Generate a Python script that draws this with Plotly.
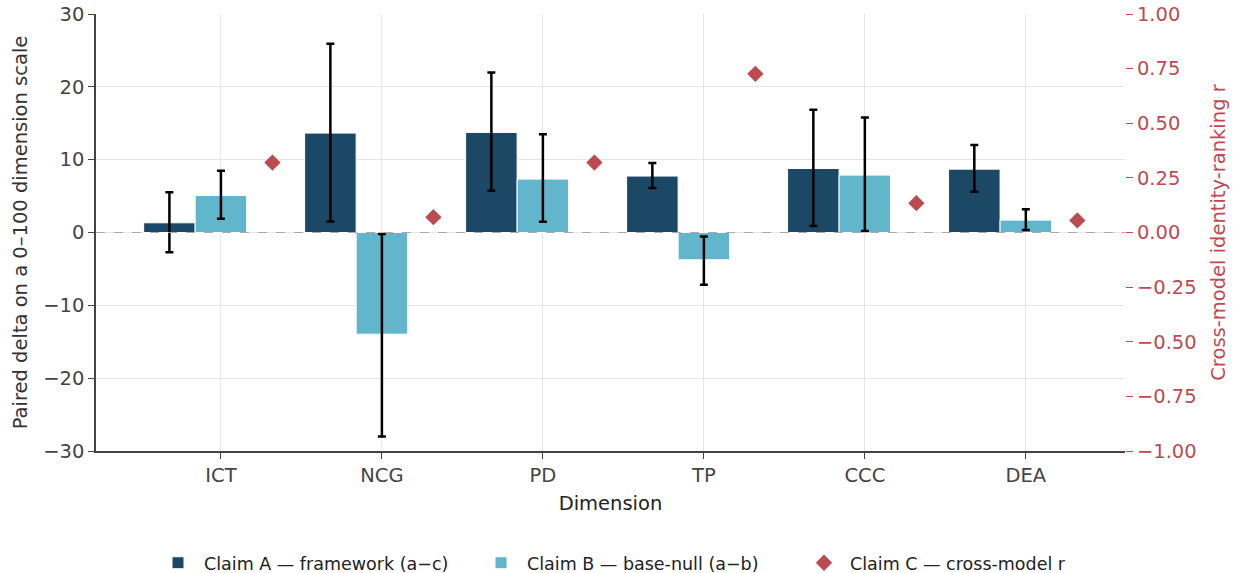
import numpy as np
import plotly.graph_objects as go

dimensions = ["ICT", "NCG", "PD", "TP", "CCC", "DEA"]

claim_a = [1.33, 13.65, 13.74, 7.75, 8.79, 8.70]
claim_a_lo = [-2.70, 1.50, 5.73, 6.10, 0.88, 5.60]
claim_a_hi = [5.54, 25.90, 21.98, 9.53, 16.85, 12.00]

claim_b = [5.08, -13.96, 7.33, -3.75, 7.88, 1.70]
claim_b_lo = [1.88, -28.00, 1.47, -7.18, 0.19, 0.33]
claim_b_hi = [8.47, -0.20, 13.50, -0.55, 15.80, 3.20]

claim_c_r = [0.32, 0.07, 0.32, 0.726, 0.134, 0.055]

name_a = "Claim A — framework (a−c)"
name_b = "Claim B — base-null (a−b)"
name_c = "Claim C — cross-model r"

C_A = "#1b4965"
C_B = "#62b6cb"
C_C = "#bc4b51"

FONT = "DejaVu Sans"
FS = 19.5
W = 0.32
idx = np.arange(len(dimensions))
a = np.array(claim_a); b = np.array(claim_b)

fig = go.Figure()
fig.add_trace(go.Bar(
    x=idx - W, y=a, width=W, name=name_a,
    marker=dict(color=C_A, line=dict(color="white", width=1)),
    error_y=dict(type="data", symmetric=False,
                 array=np.array(claim_a_hi) - a,
                 arrayminus=a - np.array(claim_a_lo),
                 color="black", thickness=2.5, width=4),
))
fig.add_trace(go.Bar(
    x=idx, y=b, width=W, name=name_b,
    marker=dict(color=C_B, line=dict(color="white", width=1)),
    error_y=dict(type="data", symmetric=False,
                 array=np.array(claim_b_hi) - b,
                 arrayminus=b - np.array(claim_b_lo),
                 color="black", thickness=2.5, width=4),
))
fig.add_trace(go.Scatter(
    x=idx + W, y=claim_c_r, mode="markers", name=name_c, yaxis="y2",
    marker=dict(symbol="diamond", size=12.5, color=C_C, line=dict(width=0)),
))

fig.add_shape(type="line", xref="paper", x0=0, x1=1, yref="y", y0=0, y1=0,
              line=dict(color="#aaaaaa", width=1.2, dash="dash"), layer="above")

fig.update_layout(
    width=1234, height=573,
    margin=dict(l=96, r=109, t=14, b=122, autoexpand=False),
    paper_bgcolor="white", plot_bgcolor="white",
    barmode="overlay",
    font=dict(family=FONT, size=FS, color="#444444"),
    showlegend=True,
    legend=dict(orientation="h", x=(152 - 96) / 1029, xanchor="left", y=-0.256, yanchor="middle",
                font=dict(size=17.5, color="#222222"), itemwidth=42,
                entrywidth=266, entrywidthmode="pixels"),
    xaxis=dict(
        range=[-0.776, 5.616], tickmode="array", tickvals=list(idx), ticktext=dimensions,
        showgrid=True, gridcolor="#e6e6e6", gridwidth=1,
        showline=True, linecolor="#444444", linewidth=1.5,
        ticks="outside", ticklen=6, tickcolor="#444444", tickwidth=1.2,
        zeroline=False, mirror=False, automargin=False,
        title=dict(text="Dimension", font=dict(size=FS, color="#222222"), standoff=10),
    ),
    yaxis=dict(
        range=[-30, 30], tickmode="linear", tick0=-30, dtick=10,
        showgrid=True, gridcolor="#e6e6e6", gridwidth=1,
        showline=True, linecolor="#444444", linewidth=1.5,
        ticks="outside", ticklen=6, tickcolor="#444444", tickwidth=1.2,
        zeroline=False, automargin=False,
        title=dict(text="Paired delta on a 0–100 dimension scale", font=dict(size=FS, color="#333333"), standoff=10),
    ),
    yaxis2=dict(
        overlaying="y", side="right", anchor="x",
        range=[-1, 1], tickmode="linear", tick0=-1, dtick=0.25, tickformat=".2f",
        showgrid=False, zeroline=False, showline=False, automargin=False,
        ticks="outside", ticklen=7, tickcolor=C_C, tickwidth=1.2,
        tickfont=dict(color=C_C, size=FS),
        title=dict(text="Cross-model identity-ranking r", font=dict(size=FS, color=C_C), standoff=15),
    ),
)

fig.write_html("out.html")
